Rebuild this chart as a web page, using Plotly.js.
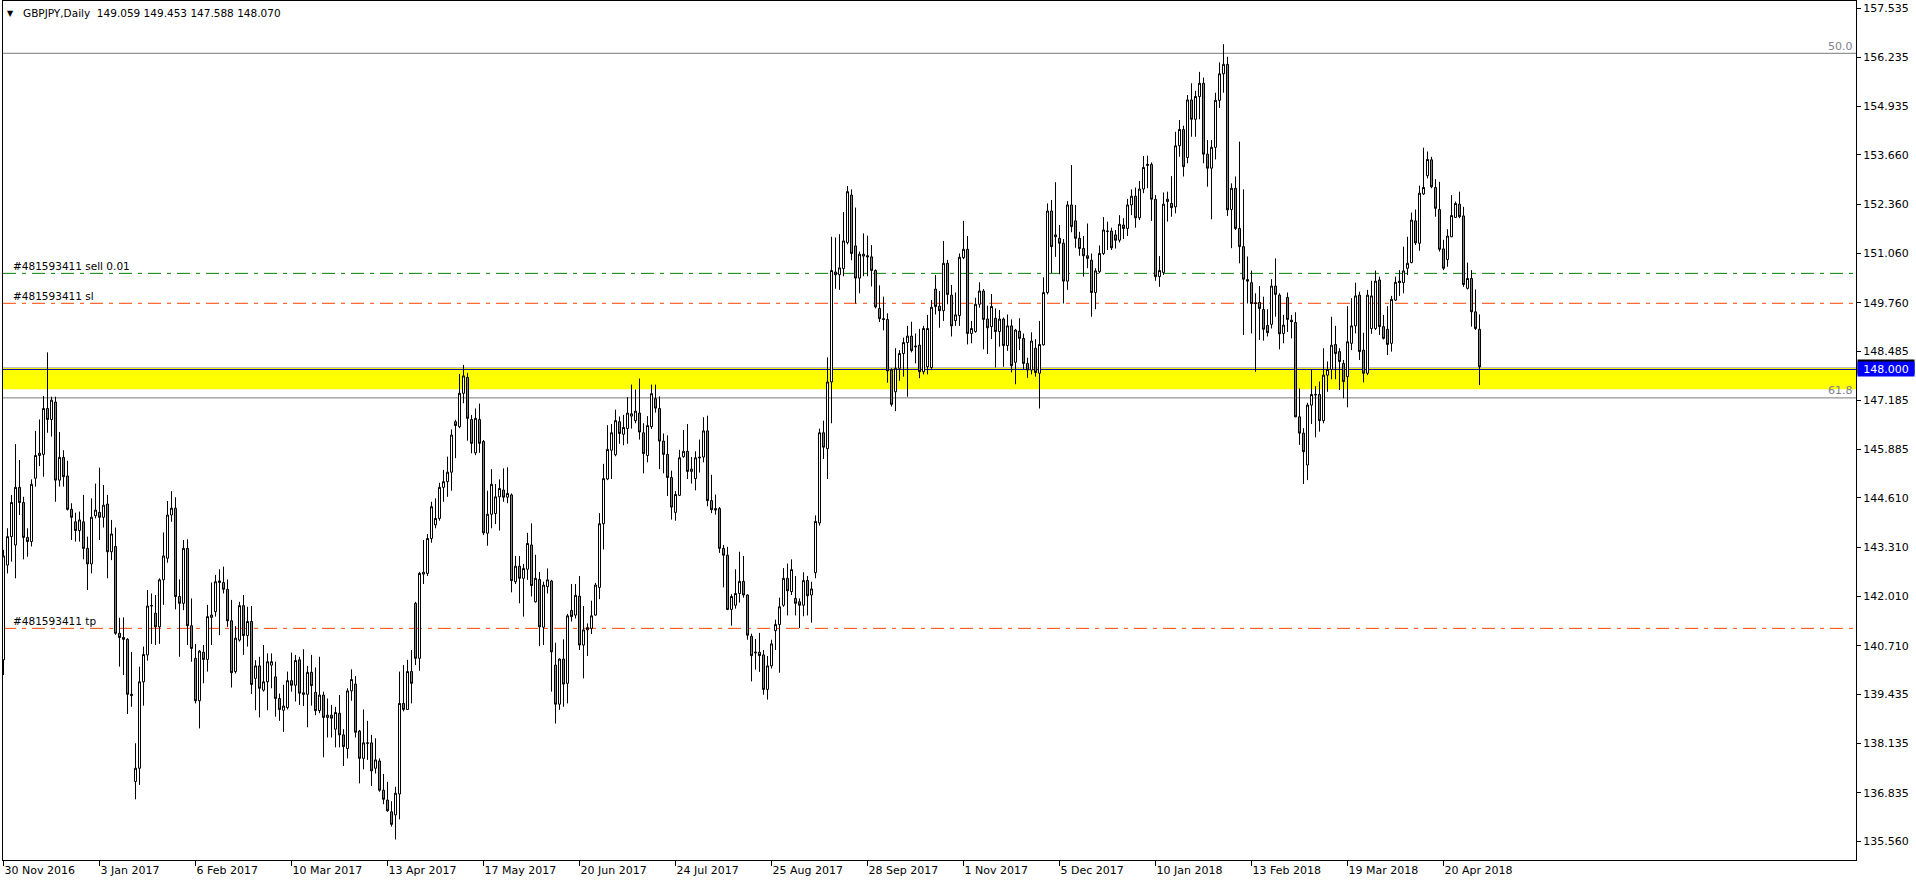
<!DOCTYPE html>
<html>
<head>
<meta charset="utf-8">
<script src="https://cdn.plot.ly/plotly-3.0.1.min.js"></script>
<style>
html,body{margin:0;padding:0;background:#fff;}
#chart{width:1916px;height:884px;}
</style>
</head>
<body>
<div id="chart"></div>
<script>
// Tick labels on the time axis (one every 24 daily bars)
const dateLabels = ['30 Nov 2016','3 Jan 2017','6 Feb 2017','10 Mar 2017','13 Apr 2017','17 May 2017','20 Jun 2017','24 Jul 2017','25 Aug 2017','28 Sep 2017','1 Nov 2017','5 Dec 2017','10 Jan 2018','13 Feb 2018','19 Mar 2018','20 Apr 2018'];
const barsPerLabel = 24;

// Price axis labels
const priceTicks = [157.535,156.235,154.935,153.660,152.360,151.060,149.760,148.485,147.185,145.885,144.610,143.310,142.010,140.710,139.435,138.135,136.835,135.560];

// GBPJPY daily OHLC
const openP = [
140.34,142.84,143.59,143.37,144.89,144.49,143.57,143.46,145.13,145.73,
145.76,146.97,146.68,147.14,145.08,145.68,145.19,144.31,143.98,143.75,
143.98,143.28,142.87,144.14,144.23,144.10,144.45,143.19,143.33,141.04,
140.93,140.88,139.43,137.13,137.48,139.76,140.47,141.76,141.57,141.21,
142.45,143.02,144.16,144.34,142.01,141.83,143.28,141.24,140.38,139.26,
140.54,140.35,141.46,141.61,142.38,142.38,142.20,141.37,140.03,140.86,
141.77,140.98,141.35,139.85,140.18,139.54,139.76,140.20,139.89,139.32,
139.01,139.08,139.79,139.67,140.34,139.47,139.43,140.01,139.48,139.00,
139.41,138.82,138.88,138.51,138.93,138.36,138.00,139.52,139.70,138.46,
137.74,138.15,138.15,137.48,137.67,136.90,136.64,136.33,136.25,136.80,
139.19,139.03,140.03,141.83,140.38,142.60,142.62,143.54,143.90,144.07,
144.89,145.04,145.29,146.62,146.49,147.37,147.79,146.68,145.80,146.68,
146.10,143.68,144.18,144.20,144.64,144.82,144.63,144.69,142.40,142.81,
142.49,142.73,143.37,141.87,142.46,141.20,142.27,142.42,140.20,139.17,
140.36,139.72,141.64,141.52,142.02,140.73,141.13,141.17,141.52,142.25,
143.93,145.11,145.87,145.75,146.62,146.29,146.44,146.77,146.65,146.85,
146.33,145.73,146.49,147.23,146.97,146.11,145.76,145.15,144.23,144.68,
145.70,145.84,145.31,145.12,145.69,145.69,146.38,144.54,144.33,144.33,
143.28,143.10,141.67,141.78,142.09,142.41,142.05,140.96,140.52,140.54,
140.47,139.56,140.18,141.11,141.27,141.78,142.49,142.14,141.96,141.87,
141.78,142.43,142.05,142.64,143.95,146.33,145.91,147.67,150.57,150.50,
150.66,151.35,152.60,151.26,150.41,150.99,151.00,150.97,150.61,149.61,
149.34,149.32,147.985,147.41,148.03,148.42,148.71,148.88,148.62,148.64,
147.94,148.07,148.05,150.12,149.67,149.55,150.80,149.96,149.29,149.42,
150.95,151.17,148.95,149.00,149.72,150.07,149.33,149.13,149.35,149.00,
149.33,148.63,149.15,148.19,149.01,148.82,148.16,147.985,148.56,147.90,
148.65,150.03,152.18,151.55,151.46,151.33,150.33,152.34,151.92,151.46,
151.19,151.00,150.88,150.03,150.58,151.06,151.64,151.65,151.55,151.41,
151.81,151.72,152.34,152.57,152.00,152.76,153.38,153.41,152.49,150.45,
150.56,152.43,152.38,152.29,153.90,154.33,153.59,155.11,154.60,155.20,
155.55,153.68,153.31,153.86,155.10,155.80,156.05,152.22,152.78,151.72,
151.24,150.37,150.29,149.76,149.77,149.58,149.16,149.19,150.20,149.96,
148.95,149.90,149.30,149.24,146.75,146.32,145.48,147.06,147.34,147.34,
146.65,147.85,148.00,148.66,148.47,148.16,147.81,148.69,149.15,149.96,
148.51,147.90,149.08,149.08,150.36,149.13,149.06,148.69,149.83,150.33,
150.29,150.67,150.82,151.92,151.33,152.63,153.11,153.53,152.80,152.22,
151.18,150.90,151.50,152.01,152.36,152.05,150.14,150.40,149.52,149.059];
const highP = [
143.24,143.81,144.69,146.03,145.61,144.64,143.81,145.10,146.38,146.68,
147.30,148.45,147.28,147.28,146.35,145.87,145.59,144.47,144.22,144.25,
144.69,143.59,144.60,144.99,145.41,144.95,144.69,144.03,143.83,141.45,
141.46,140.91,140.55,138.14,140.16,140.69,142.18,142.09,142.05,142.49,
143.70,144.53,144.79,144.63,142.46,143.50,143.52,141.96,140.76,140.60,
140.73,141.79,142.38,142.58,142.73,142.80,142.46,141.92,141.23,141.87,
142.05,141.74,141.76,140.33,140.42,140.73,140.51,140.51,140.29,139.45,
139.68,140.03,140.53,140.47,140.42,140.62,140.18,140.47,140.14,140.42,
139.50,139.32,139.15,139.10,139.41,138.51,139.59,140.09,139.91,138.49,
139.03,138.73,138.36,138.27,137.74,137.33,137.12,136.61,136.99,140.03,
140.20,140.34,140.60,141.87,142.66,143.50,143.66,144.51,144.60,145.01,
145.35,145.70,146.42,146.67,147.88,148.12,147.91,146.80,146.97,147.10,
146.14,144.80,145.37,144.98,145.10,145.39,145.42,144.73,143.08,143.08,
142.87,143.69,143.94,143.11,142.66,142.40,142.75,142.45,140.79,140.38,
140.88,141.55,142.34,142.34,142.55,141.76,141.30,141.90,142.37,144.21,
145.51,146.53,146.56,146.94,146.76,146.80,147.27,147.60,147.47,147.76,
146.58,146.77,147.60,147.60,147.29,146.31,146.26,145.33,144.79,145.88,
146.40,146.56,145.69,145.84,146.15,146.74,146.78,145.22,144.70,144.37,
143.37,143.32,142.07,142.73,143.19,143.08,142.07,141.03,140.89,141.05,
140.60,140.44,140.87,141.40,141.98,142.76,142.88,142.99,142.55,141.96,
142.65,142.55,142.40,144.15,146.44,146.65,148.32,151.50,151.48,151.57,
152.15,152.84,152.75,152.27,151.11,151.59,151.53,151.28,150.64,150.22,
149.92,149.48,148.03,148.56,148.51,148.84,149.15,149.26,148.95,149.07,
149.15,149.44,149.83,150.49,150.07,151.39,150.89,150.23,150.03,151.06,
151.92,151.52,149.28,149.89,150.30,150.12,149.68,149.99,149.61,149.57,
149.37,149.45,149.32,149.07,149.35,148.95,148.31,148.98,148.80,149.28,
150.43,152.38,152.47,152.94,151.81,151.44,152.44,153.39,152.34,151.63,
151.52,151.85,151.06,150.67,151.27,152.02,151.90,151.74,151.68,152.07,
151.99,152.50,152.75,152.80,152.97,153.63,153.64,153.46,152.60,150.99,
152.67,152.69,153.10,154.27,154.58,154.43,155.24,155.55,155.35,155.85,
155.70,154.05,154.05,155.30,156.10,156.58,156.25,152.91,153.09,154.01,
152.75,150.98,150.61,150.01,150.20,149.92,149.59,150.38,150.93,150.01,
149.44,150.03,149.44,149.51,147.50,146.45,147.12,148.00,147.56,147.68,
148.56,148.21,149.39,149.15,148.56,148.25,149.67,149.88,150.29,150.05,
148.97,150.10,150.34,150.61,150.45,149.44,149.67,149.94,150.45,150.62,
151.24,151.50,152.14,152.22,152.85,153.85,153.75,153.61,153.02,152.95,
151.42,151.70,152.60,152.43,152.69,152.29,150.82,150.62,150.11,149.453];
const lowP = [
139.94,142.62,142.93,142.49,144.16,142.99,143.06,143.33,144.91,145.45,
145.17,146.33,146.23,144.51,144.91,144.91,144.28,143.50,143.46,143.46,
142.99,142.18,142.62,144.07,143.50,143.83,142.49,142.97,141.00,140.16,
139.94,138.91,139.10,136.66,137.04,139.13,140.32,140.76,140.73,140.76,
141.79,142.90,143.98,141.67,140.42,141.65,140.73,140.29,139.19,138.53,
139.72,140.03,140.73,141.48,140.99,142.09,141.21,139.61,139.98,140.82,
140.47,140.69,139.44,139.01,138.82,139.50,139.01,139.59,138.84,138.73,
138.44,139.03,139.50,139.24,139.15,139.12,138.56,139.13,138.88,138.93,
137.77,138.29,138.29,138.03,138.03,137.54,137.74,139.26,138.29,137.08,
137.45,137.70,137.01,137.34,136.86,136.53,136.33,135.94,135.60,136.13,
138.98,139.02,139.19,140.20,140.05,142.34,142.55,143.43,143.81,144.01,
144.51,144.64,144.80,145.66,146.45,147.11,146.12,145.79,145.74,145.80,
143.63,143.35,143.81,143.92,143.75,144.51,144.47,142.12,142.34,141.83,
141.48,142.45,142.01,141.85,140.70,140.73,142.09,139.50,138.66,139.02,
139.10,139.19,141.35,141.43,140.60,139.85,140.44,141.02,141.50,141.94,
143.25,145.08,145.11,145.71,146.04,146.00,146.04,146.44,146.58,146.15,
145.26,145.55,146.43,146.86,145.37,145.26,144.66,144.04,144.01,144.66,
145.67,145.11,144.99,144.81,145.28,145.55,144.39,144.21,144.17,143.16,
142.25,141.65,141.24,141.69,141.85,141.98,140.87,139.77,140.08,140.02,
139.42,139.29,140.11,140.60,140.00,141.74,141.51,142.05,141.51,141.18,
141.49,141.51,141.32,142.49,143.88,145.64,145.11,146.58,150.13,150.10,
150.46,151.30,150.88,149.74,150.01,150.46,150.46,150.19,149.61,149.25,
149.03,147.65,147.02,146.90,147.70,147.81,147.28,148.45,148.16,147.77,
147.87,147.87,147.98,149.45,149.10,149.28,149.72,148.87,149.15,149.15,
150.91,148.66,148.69,148.97,149.63,148.53,148.41,148.80,148.05,148.60,
148.07,148.49,147.92,147.61,148.51,148.01,147.78,147.87,147.81,146.97,
148.63,149.98,150.54,150.97,150.51,149.74,150.10,151.62,151.21,151.00,
150.45,150.67,149.39,149.59,150.54,151.02,151.15,151.15,151.19,151.35,
151.44,151.52,152.07,151.74,151.94,152.65,152.78,151.92,150.34,150.18,
150.49,151.90,152.03,152.12,153.61,153.09,153.44,154.14,154.14,154.60,
153.44,152.82,151.96,153.54,154.90,155.30,152.05,151.20,151.68,150.80,
148.91,149.74,148.95,147.94,148.78,148.76,148.87,149.08,149.39,148.53,
148.69,148.99,148.82,146.74,146.01,144.98,145.08,146.56,146.21,146.36,
146.58,147.41,147.74,147.74,147.46,147.24,147.00,148.51,148.95,148.25,
147.66,147.85,148.94,149.04,148.91,148.79,148.38,148.47,149.81,149.94,
150.01,150.49,150.80,151.28,151.13,152.60,153.04,152.78,152.03,151.11,
150.62,150.71,151.49,152.00,151.99,150.18,150.11,149.13,149.04,147.588];
const closeP = [
143.08,143.59,144.49,144.89,144.49,143.57,143.46,144.97,145.73,145.79,
146.97,146.68,147.19,145.08,145.68,145.17,144.31,144.10,143.75,144.03,
143.28,142.87,144.10,144.29,144.10,144.42,143.19,143.66,141.04,140.93,
140.88,139.43,139.40,137.48,139.76,140.48,141.76,141.77,141.21,142.45,
143.08,144.16,144.34,142.01,141.83,143.28,141.24,140.64,139.26,140.57,
140.35,141.48,141.52,142.40,142.42,142.20,141.37,140.00,140.91,141.77,
140.98,141.35,139.69,140.18,139.59,139.76,140.29,140.29,139.32,139.03,
139.12,139.79,139.67,140.32,139.46,139.43,140.01,139.66,139.00,139.41,
138.82,138.88,138.80,138.95,138.36,138.05,139.52,139.82,138.43,137.74,
138.15,138.14,137.41,137.70,136.90,136.66,136.36,136.00,136.82,139.19,
139.03,140.03,139.72,140.38,142.62,142.65,143.54,144.38,144.07,144.89,
145.04,145.29,146.27,146.52,147.37,147.83,146.71,146.05,146.71,146.05,
143.69,144.18,144.97,144.64,144.86,144.63,144.73,142.43,142.81,142.49,
142.75,143.41,142.30,142.49,141.21,142.31,142.45,140.55,139.17,140.36,
139.70,141.50,141.48,142.04,140.73,141.13,141.19,141.50,142.31,143.93,
145.12,145.89,146.33,146.65,146.31,146.47,146.85,146.83,146.90,146.35,
145.78,146.52,147.36,146.98,146.11,145.76,145.15,144.37,144.70,145.67,
145.84,145.31,145.37,145.67,145.67,146.38,144.54,144.30,144.29,143.28,
143.10,141.67,142.01,142.09,142.41,142.05,140.99,140.45,140.54,140.45,
139.56,140.18,140.76,141.27,141.74,142.49,142.16,142.72,141.83,141.78,
142.43,142.03,142.21,143.99,146.33,145.95,147.67,150.61,150.50,150.68,
151.39,152.69,151.06,150.41,151.04,151.04,150.97,150.61,149.65,149.34,
149.32,147.96,147.08,148.03,148.42,148.71,148.88,148.50,148.60,147.94,
149.08,149.08,149.64,149.66,149.55,150.80,149.98,149.15,149.44,150.96,
151.17,148.95,149.08,149.72,150.07,149.32,149.10,149.66,149.00,149.33,
148.63,149.15,148.10,149.04,148.82,148.16,147.985,148.75,147.92,148.66,
150.03,152.18,151.24,151.50,151.33,150.33,152.34,151.77,151.46,151.19,
151.00,150.93,150.03,150.60,151.06,151.68,151.65,151.21,151.41,151.83,
151.72,152.34,152.57,152.00,152.76,153.33,153.41,152.49,150.45,150.61,
152.36,152.49,152.27,153.90,154.33,153.35,155.11,154.60,155.20,155.55,
153.68,153.31,153.86,155.10,155.80,156.05,152.21,152.78,151.72,151.24,
150.38,150.33,149.74,149.74,149.61,149.06,148.97,150.20,149.98,148.94,
149.17,149.32,149.26,146.75,146.32,145.83,147.06,147.34,147.33,146.65,
147.85,148.00,148.64,148.42,148.21,147.68,148.73,149.15,149.94,148.47,
147.90,149.96,149.94,150.33,149.13,148.82,148.66,149.85,150.30,150.29,
150.60,150.80,151.94,151.34,152.65,152.80,153.54,152.82,152.25,151.17,
150.67,151.52,152.06,152.38,152.03,150.24,150.40,149.52,149.08,148.070];

// Drawn price levels
const fib50Level = 156.34;
const fib618Level = 147.25;
const zoneTop = 148.05;
const zoneBottom = 147.48;
const keyLevel = 148.000;
const bidPrice = 148.070;
const entryLevel = 150.535;
const slLevel = 149.745;
const tpLevel = 141.17;

const barIndex = openP.map((_, i) => i);
const tickIdx = dateLabels.map((_, i) => i * barsPerLabel);

const trace = {
  type: 'candlestick',
  x: barIndex,
  open: openP, high: highP, low: lowP, close: closeP,
  increasing: {line: {color: '#000000', width: 1}, fillcolor: '#ffffff'},
  decreasing: {line: {color: '#000000', width: 1}, fillcolor: '#808080'},
  whiskerwidth: 0,
  hoverinfo: 'skip',
  showlegend: false
};

const dashDot = '13px,6px,4px,6px';
function hline(y, color, dash, width) {
  return {type: 'line', xref: 'paper', x0: 0, x1: 1, yref: 'y', y0: y, y1: y,
          line: {color: color, width: width || 1, dash: dash || 'solid'}, layer: 'below'};
}

const shapes = [
  {type: 'rect', xref: 'paper', x0: 0, x1: 1, yref: 'y', y0: zoneBottom, y1: zoneTop,
   fillcolor: '#ffff00', line: {width: 0}, layer: 'below'},
  hline(zoneTop, '#c0c0c0'),
  hline(keyLevel, '#0000b4'),
  hline(fib50Level, '#7a7a7a'),
  hline(fib618Level, '#7a7a7a'),
  hline(entryLevel, '#008000', dashDot),
  hline(slLevel, '#ff4500', dashDot),
  hline(tpLevel, '#ff4500', dashDot)
];

const F = 'DejaVu Sans';
const annotations = [
  {xref: 'paper', yref: 'paper', x: 0, y: 1, xanchor: 'left', yanchor: 'middle',
   xshift: 2, yshift: -12, text: '▼', showarrow: false, font: {family: F, size: 8, color: '#000'}},
  {xref: 'paper', yref: 'paper', x: 0, y: 1, xanchor: 'left', yanchor: 'middle',
   xshift: 18, yshift: -12, text: 'GBPJPY,Daily  ' + openP[openP.length-1].toFixed(3) + ' ' + highP[highP.length-1].toFixed(3) + ' ' + lowP[lowP.length-1].toFixed(3) + ' ' + closeP[closeP.length-1].toFixed(3),
   showarrow: false, font: {family: F, size: 10.5, color: '#000'}},
  {xref: 'paper', yref: 'y', x: 0, y: entryLevel, xanchor: 'left', yanchor: 'middle',
   xshift: 8, yshift: 7, text: '#481593411 sell 0.01', showarrow: false, font: {family: F, size: 10.5, color: '#000'}},
  {xref: 'paper', yref: 'y', x: 0, y: slLevel, xanchor: 'left', yanchor: 'middle',
   xshift: 8, yshift: 7, text: '#481593411 sl', showarrow: false, font: {family: F, size: 10.5, color: '#000'}},
  {xref: 'paper', yref: 'y', x: 0, y: tpLevel, xanchor: 'left', yanchor: 'middle',
   xshift: 8, yshift: 7, text: '#481593411 tp', showarrow: false, font: {family: F, size: 10.5, color: '#000'}},
  {xref: 'paper', yref: 'y', x: 1, y: fib50Level, xanchor: 'right', yanchor: 'middle',
   xshift: -1, yshift: 7, text: '50.0', showarrow: false, font: {family: F, size: 11, color: '#808090'}},
  {xref: 'paper', yref: 'y', x: 1, y: fib618Level, xanchor: 'right', yanchor: 'middle',
   xshift: -1, yshift: 7, text: '61.8', showarrow: false, font: {family: F, size: 11, color: '#808090'}},
  {xref: 'paper', yref: 'y', x: 1, y: bidPrice, xanchor: 'left', yanchor: 'middle',
   xshift: 1, text: bidPrice.toFixed(3), showarrow: false, bgcolor: '#000000', borderpad: 1,
   width: 54, height: 12, font: {family: F, size: 11, color: '#000'}},
  {xref: 'paper', yref: 'y', x: 1, y: keyLevel, xanchor: 'left', yanchor: 'middle',
   xshift: 1, text: keyLevel.toFixed(3), showarrow: false, bgcolor: '#0000ff', borderpad: 1,
   width: 54, height: 12, font: {family: F, size: 11, color: '#ffffff'}}
];

const layout = {
  width: 1916, height: 884,
  margin: {l: 3, r: 60, t: 1, b: 24, pad: 0},
  paper_bgcolor: '#ffffff', plot_bgcolor: '#ffffff',
  font: {family: F, size: 11, color: '#000'},
  showlegend: false,
  boxgap: 0.5, boxgroupgap: 0,
  xaxis: {
    range: [-0.125, 463.125], tickmode: 'array', tickvals: tickIdx, ticktext: dateLabels,
    ticks: 'outside', ticklen: 5, tickwidth: 1, tickcolor: '#000',
    ticklabelposition: 'outside right',
    showline: true, linecolor: '#000', linewidth: 1, mirror: true,
    showgrid: false, zeroline: false, fixedrange: true,
    rangeslider: {visible: false},
    tickfont: {family: F, size: 11, color: '#000'}
  },
  yaxis: {
    range: [135.059, 157.720], side: 'right', tickmode: 'array',
    tickvals: priceTicks, ticktext: priceTicks.map(v => v.toFixed(3)),
    ticks: 'outside', ticklen: 4, tickwidth: 1, tickcolor: '#000',
    showline: true, linecolor: '#000', linewidth: 1, mirror: true,
    showgrid: false, zeroline: false, fixedrange: true,
    tickfont: {family: F, size: 11, color: '#000'}
  },
  shapes: shapes,
  annotations: annotations
};

Plotly.newPlot('chart', [trace], layout, {staticPlot: true, displayModeBar: false});
</script>
</body>
</html>
